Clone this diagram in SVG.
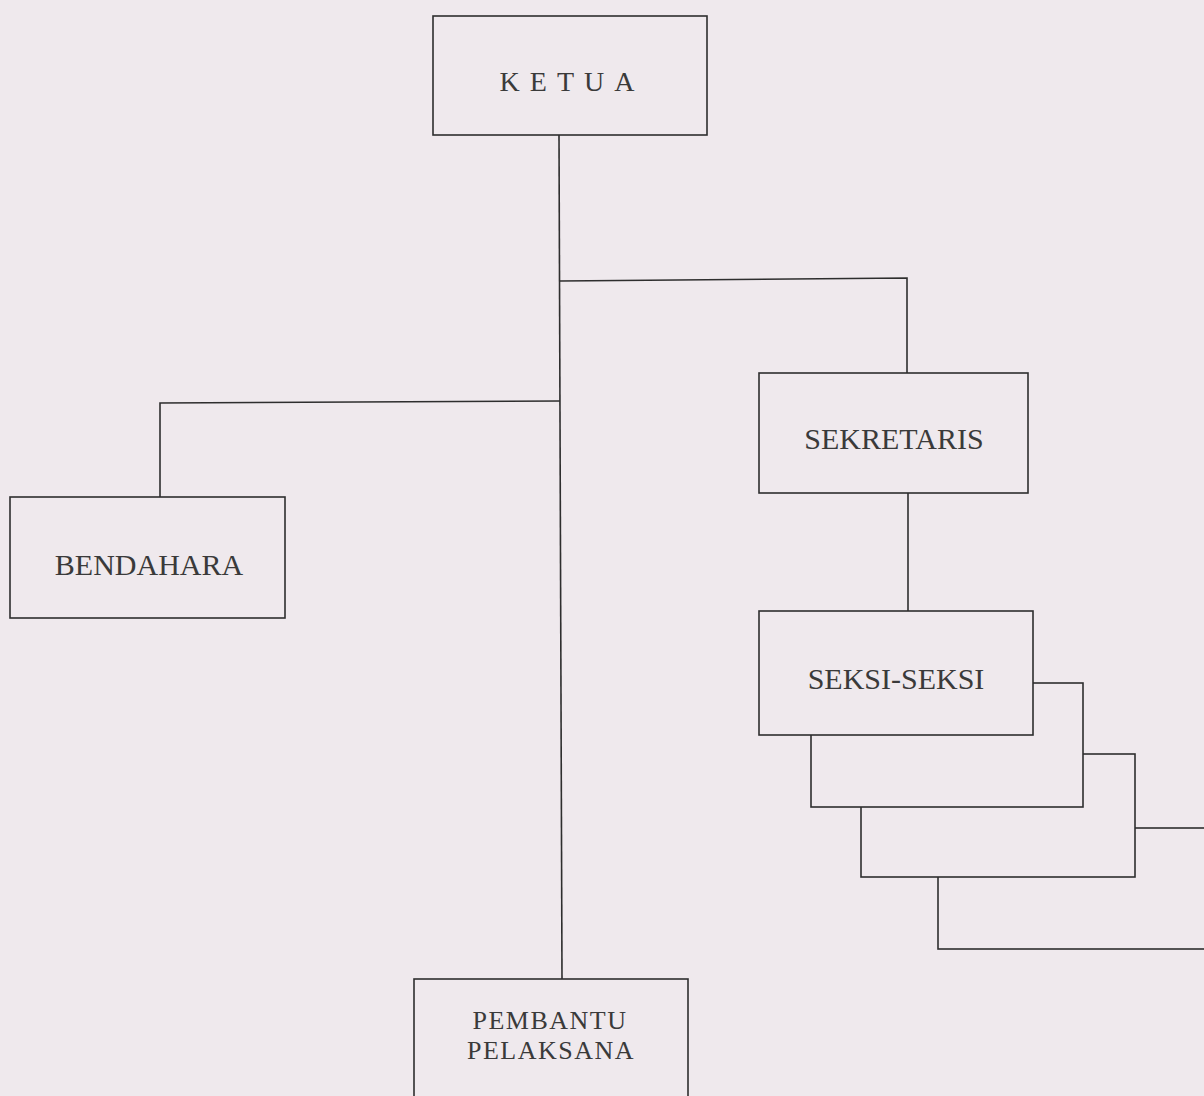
<svg xmlns="http://www.w3.org/2000/svg" width="1204" height="1096" viewBox="0 0 1204 1096">
<style>
.box{fill:#efe9ed;stroke:#2e2e2e;stroke-width:1.6}
.ln{fill:none;stroke:#2e2e2e;stroke-width:1.6}
.t{font-family:"Liberation Serif","Times New Roman",serif;font-size:30px;fill:#3a3a3a;text-anchor:middle}
</style>
<rect width="1204" height="1096" fill="#efe9ed"/>
<g id="connectors">
<path class="ln" d="M559 135 L562 979"/>
<path class="ln" d="M560 281 L907 278 L907 373"/>
<path class="ln" d="M560 401 L160 403 L160 497"/>
<path class="ln" d="M908 493 L908 611"/>
</g>
<g id="ketua">
<rect class="box" x="433" y="16" width="274" height="119"/>
<text class="t" x="572" y="91" style="font-size:28px;letter-spacing:10px">KETUA</text>
</g>
<g id="sekretaris">
<rect class="box" x="759" y="373" width="269" height="120"/>
<text class="t" x="894" y="449">SEKRETARIS</text>
</g>
<g id="bendahara">
<rect class="box" x="10" y="497" width="275" height="121"/>
<text class="t" x="149" y="575">BENDAHARA</text>
</g>
<g id="seksi-stack">
<rect class="box" x="938" y="828" width="280" height="121"/>
<rect class="box" x="861" y="754" width="274" height="123"/>
<rect class="box" x="811" y="683" width="272" height="124"/>
</g>
<g id="seksi">
<rect class="box" x="759" y="611" width="274" height="124"/>
<text class="t" x="896" y="689">SEKSI-SEKSI</text>
</g>
<g id="pembantu">
<rect class="box" x="414" y="979" width="274" height="130"/>
<text class="t" x="550" y="1029" style="font-size:26px;letter-spacing:1.5px">PEMBANTU</text>
<text class="t" x="551" y="1059" style="font-size:26px;letter-spacing:1.5px">PELAKSANA</text>
</g>
</svg>
